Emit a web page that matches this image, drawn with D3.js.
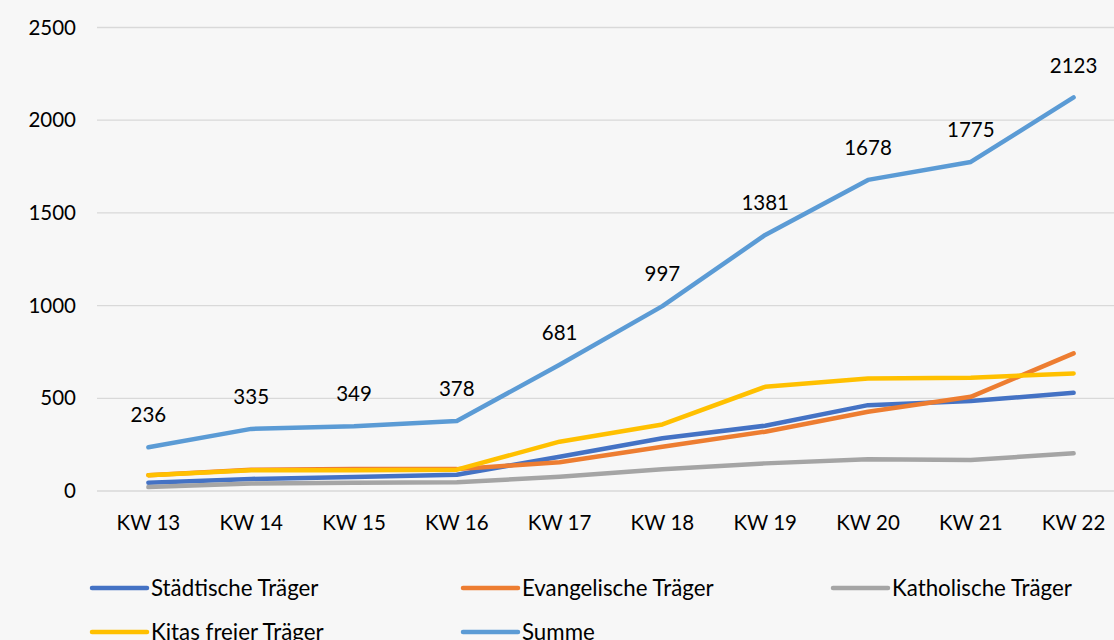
<!DOCTYPE html>
<html><head><meta charset="utf-8">
<script src="https://cdn.jsdelivr.net/npm/d3@7"></script>
<style>body{margin:0;background:#f7f7f7;}svg{display:block;font-family:Lato,"Open Sans",sans-serif;}</style>
</head><body><svg id="c" width="1114" height="640"></svg>
<script>
const categories = ["KW 13","KW 14","KW 15","KW 16","KW 17","KW 18","KW 19","KW 20","KW 21","KW 22"];
const staedtisch  = [45, 65, 75, 88, 185, 285, 352, 463, 485, 530];
const evangelisch = [85, 115, 118, 118, 155, 239, 320, 427, 508, 742];
const kitasFrei   = [85, 112, 112, 115, 266, 359, 562, 607, 611, 634];
const katholisch  = [21, 40, 44, 47, 77, 117, 149, 171, 167, 203];
const summe       = [236, 335, 349, 378, 681, 997, 1381, 1678, 1775, 2123];
const yTicks = [0, 500, 1000, 1500, 2000, 2500];
const seriesNames = ["Städtische Träger","Evangelische Träger","Katholische Träger","Kitas freier Träger","Summe"];

const series = [
  {name: seriesNames[0], values: staedtisch, color: "#4472C4"},
  {name: seriesNames[1], values: evangelisch, color: "#ED7D31"},
  {name: seriesNames[2], values: katholisch, color: "#A5A5A5"},
  {name: seriesNames[3], values: kitasFrei, color: "#FFC000"},
  {name: seriesNames[4], values: summe, color: "#5B9BD5"}
];

const svg = d3.select("#c");
const mLeft = 97, mRight = 1125, mTop = 27.5, mBottom = 491;
const x = d3.scaleBand().domain(categories).range([mLeft, mRight]);
const y = d3.scaleLinear().domain([0, 2500]).range([mBottom, mTop]);
const cx = d => x(d) + x.bandwidth()/2;
const numSize = 20.5, legSize = 22.3;

svg.append("rect").attr("width",1114).attr("height",640).attr("fill","#f7f7f7");

svg.append("g").selectAll("line").data(yTicks).join("line")
  .attr("x1", mLeft).attr("x2", mRight)
  .attr("y1", d => y(d)).attr("y2", d => y(d))
  .attr("stroke", "#d9d9d9").attr("stroke-width", 1.3);

svg.append("g").selectAll("text").data(yTicks).join("text")
  .attr("x", 76).attr("y", d => y(d)).attr("dy","0.35em")
  .attr("text-anchor","end").attr("font-size", numSize).attr("fill","#000")
  .text(d => d);

svg.append("g").selectAll("text").data(categories).join("text")
  .attr("x", d => cx(d)).attr("y", 523).attr("dy","0.35em")
  .attr("text-anchor","middle").attr("font-size", numSize).attr("fill","#000")
  .text(d => d);

const line = d3.line().x((d,i) => cx(categories[i])).y(d => y(d));
svg.append("g").selectAll("path").data(series).join("path")
  .attr("d", s => line(s.values))
  .attr("fill","none").attr("stroke", s => s.color)
  .attr("stroke-width", 4.5).attr("stroke-linecap","round").attr("stroke-linejoin","round");

svg.append("g").selectAll("text").data(summe).join("text")
  .attr("x", (d,i) => cx(categories[i])).attr("y", d => y(d) - 32).attr("dy","0.35em")
  .attr("text-anchor","middle").attr("font-size", numSize).attr("fill","#000")
  .text(d => d);

const legendPos = [
  {x: 92, y: 588}, {x: 463, y: 588}, {x: 833, y: 588},
  {x: 92, y: 632}, {x: 463, y: 632}
];
const lg = svg.append("g").selectAll("g").data(series).join("g")
  .attr("transform", (s,i) => `translate(${legendPos[i].x},${legendPos[i].y})`);
lg.append("line").attr("x1",0).attr("x2",55).attr("y1",0).attr("y2",0)
  .attr("stroke", s => s.color).attr("stroke-width",4.5).attr("stroke-linecap","round");
lg.append("text").attr("x",59).attr("dy","0.35em").attr("font-size",legSize).attr("fill","#000")
  .text(s => s.name);
</script></body></html>
